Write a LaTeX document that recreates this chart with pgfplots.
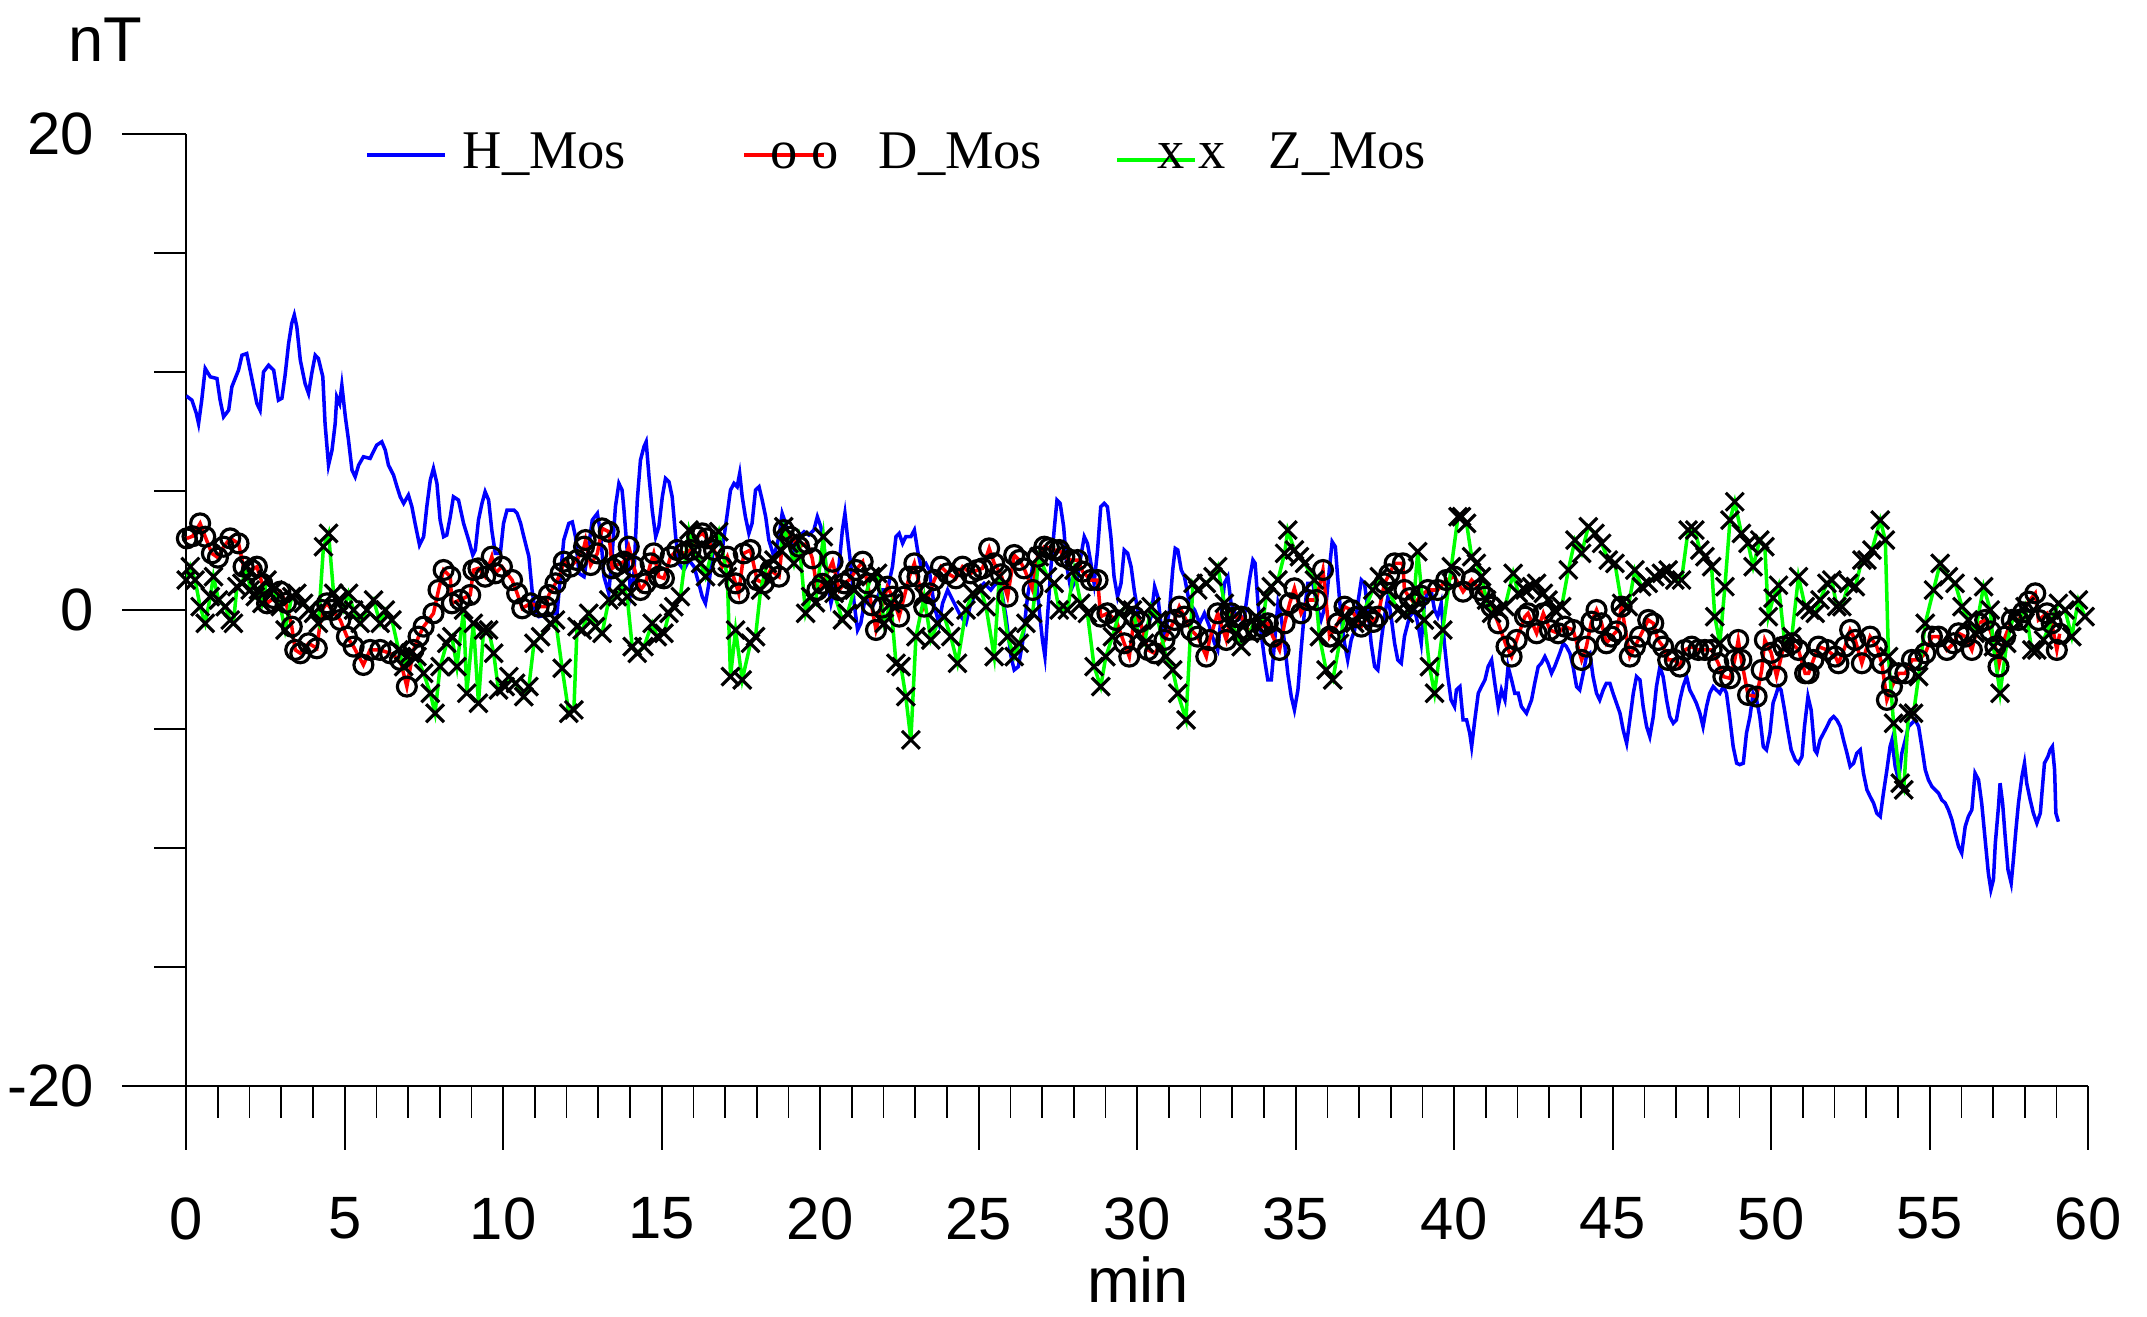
\documentclass[border=0pt]{standalone}
\usepackage{fontspec}
\setmainfont{Liberation Sans}
\newfontfamily\seriffont{Liberation Serif}
\usepackage{pgfplots}
\pgfplotsset{compat=1.18}
\pgfplotstableread{
t v
0 9.0
0.18 8.82
0.32 8.26
0.39 7.84
0.49 8.82
0.60 10.15
0.76 9.8
0.97 9.73
1.07 8.82
1.18 8.12
1.34 8.4
1.44 9.38
1.65 10.08
1.76 10.71
1.91 10.78
2.07 9.73
2.23 8.68
2.33 8.4
2.44 10.01
2.60 10.29
2.76 10.08
2.91 8.82
3.02 8.9
3.12 9.87
3.23 11.2
3.33 12.05
3.41 12.4
3.49 11.9
3.60 10.5
3.75 9.52
3.86 9.1
3.96 9.94
4.07 10.71
4.17 10.57
4.31 9.8
4.38 7.84
4.49 6.09
4.60 6.72
4.70 7.84
4.75 8.96
4.84 8.68
4.91 9.45
5.02 8.12
5.12 7.14
5.23 5.88
5.33 5.6
5.44 6.09
5.59 6.44
5.80 6.37
6.01 6.93
6.17 7.07
6.28 6.72
6.38 6.09
6.54 5.67
6.65 5.18
6.75 4.76
6.86 4.48
7.01 4.83
7.12 4.34
7.22 3.64
7.36 2.73
7.49 3.08
7.59 4.34
7.70 5.46
7.80 5.95
7.91 5.32
8.01 3.78
8.12 3.08
8.22 3.15
8.33 3.92
8.43 4.76
8.59 4.62
8.75 3.64
8.91 2.94
9.04 2.31
9.12 2.52
9.22 3.78
9.33 4.48
9.43 4.97
9.54 4.62
9.64 3.36
9.75 2.38
9.91 2.38
10.01 3.64
10.12 4.20
10.34 4.2
10.44 4.06
10.55 3.64
10.65 3.08
10.81 2.24
10.91 0.84
11.02 -0.14
11.12 -0.28
11.39 -0.2
11.70 -0.14
11.81 1.5
11.91 2.94
12.07 3.64
12.18 3.7
12.28 3.08
12.39 1.54
12.55 1.4
12.65 2.24
12.81 3.78
12.97 4.06
13.07 3.22
13.18 1.40
13.33 0.70
13.44 2.38
13.54 4.34
13.65 5.32
13.75 5.04
13.81 4.2
13.91 2.52
14.02 0.70
14.12 1.40
14.23 4.62
14.33 6.3
14.44 6.86
14.51 7.07
14.60 5.6
14.70 4.2
14.81 3.08
14.91 3.5
15.02 4.76
15.12 5.53
15.23 5.39
15.33 4.76
15.44 3.08
15.54 1.96
15.70 1.68
15.86 2.10
16.02 1.82
16.17 1.12
16.28 0.56
16.38 0.28
16.49 1.12
16.65 2.80
16.80 3.08
16.91 2.52
17.07 4.06
17.17 5.04
17.28 5.32
17.38 5.18
17.46 5.74
17.54 4.76
17.64 3.92
17.75 3.22
17.85 3.64
17.96 5.04
18.07 5.18
18.17 4.62
18.28 3.92
18.38 2.94
18.54 2.24
18.70 3.08
18.80 4.06
18.91 3.64
19.01 3.08
19.17 2.52
19.33 3.08
19.49 3.29
19.64 3.15
19.80 3.36
19.91 3.92
20.02 3.5
20.13 2.52
20.23 1.12
20.34 0.28
20.44 0.84
20.60 1.96
20.70 3.36
20.78 4.06
20.86 3.08
20.97 1.82
21.07 0.28
21.18 -0.84
21.28 -0.56
21.39 0.28
21.49 0.42
21.65 0.14
21.81 0.56
21.91 0.84
22.12 0.84
22.28 1.82
22.39 3.08
22.49 3.22
22.60 2.8
22.70 3.08
22.86 3.08
22.97 3.36
23.07 2.52
23.18 1.82
23.33 1.96
23.44 1.68
23.60 0.14
23.75 -0.56
23.86 0.28
24.02 0.84
24.23 0.28
24.44 -0.28
24.60 -0.56
24.75 0.28
24.96 0.84
25.17 1.12
25.38 0.84
25.54 1.12
25.70 0.98
25.86 -0.28
26.02 -1.96
26.12 -2.52
26.25 -2.38
26.38 -1.40
26.54 0.56
26.70 1.82
26.80 1.68
26.91 0
27.01 -1.26
27.09 -1.96
27.17 -0.28
27.28 1.82
27.38 3.36
27.47 4.62
27.57 4.48
27.68 3.5
27.78 1.82
27.91 0.84
28.01 1.12
28.12 1.40
28.22 2.24
28.33 3.08
28.43 2.8
28.54 1.96
28.64 1.12
28.75 2.52
28.85 4.34
28.96 4.48
29.06 4.34
29.17 3.08
29.27 1.40
29.38 0.56
29.49 1.12
29.59 2.52
29.70 2.38
29.81 1.8
29.91 0.8
30.00 0.1
30.07 -0.56
30.23 -0.98
30.44 -0.28
30.55 0.98
30.65 0.56
30.76 -0.70
30.86 -1.12
31.02 0
31.12 1.68
31.20 2.59
31.28 2.52
31.39 1.68
31.49 1.40
31.65 0.28
31.81 0
31.97 -0.56
32.12 -0.14
32.28 -0.70
32.44 -1.40
32.54 -1.68
32.65 -0.28
32.75 1.12
32.86 1.40
32.96 0.28
33.17 -0.42
33.38 -0.28
33.54 1.26
33.65 2.10
33.72 1.96
33.81 0.28
33.91 -0.98
34.02 -2.10
34.12 -2.94
34.23 -2.94
34.33 -1.40
34.44 0.28
34.54 -0.28
34.65 -1.40
34.75 -2.66
34.86 -3.64
34.96 -4.2
35.07 -3.36
35.17 -1.68
35.28 0
35.38 1.12
35.54 1.12
35.70 0
35.80 -0.42
35.96 0.28
36.07 1.82
36.15 2.87
36.25 2.66
36.33 1.26
36.43 -0.28
36.54 -1.40
36.64 -2.1
36.75 -1.26
36.86 -0.84
36.96 0.28
37.07 1.26
37.17 1.12
37.28 0
37.38 -1.40
37.49 -2.38
37.59 -2.52
37.70 -1.26
37.80 -0.28
37.91 0.56
38.01 -0.28
38.12 -1.40
38.22 -2.1
38.33 -2.24
38.43 -1.12
38.59 -0.28
38.75 0
38.85 -0.56
38.96 -1.40
39.06 0.28
39.17 0.84
39.27 0.84
39.38 0
39.48 -0.28
39.59 0.28
39.69 -1.40
39.80 -2.8
39.90 -3.78
40.01 -4.06
40.07 -3.36
40.18 -3.22
40.28 -4.62
40.39 -4.62
40.49 -5.18
40.55 -5.74
40.65 -4.62
40.76 -3.5
40.86 -3.22
40.97 -2.94
41.07 -2.38
41.18 -2.1
41.28 -3.08
41.39 -4.06
41.49 -3.36
41.60 -3.78
41.70 -2.38
41.81 -2.94
41.91 -3.5
42.02 -3.5
42.12 -4.06
42.28 -4.34
42.44 -3.78
42.54 -3.08
42.65 -2.38
42.75 -2.24
42.86 -1.96
42.96 -2.24
43.07 -2.66
43.17 -2.38
43.33 -1.82
43.44 -1.40
43.54 -1.54
43.65 -1.82
43.75 -2.38
43.86 -3.22
43.96 -3.36
44.07 -2.66
44.17 -1.96
44.28 -1.82
44.38 -2.80
44.49 -3.5
44.59 -3.78
44.70 -3.36
44.80 -3.08
44.91 -3.08
45.01 -3.5
45.12 -3.92
45.23 -4.34
45.33 -5.04
45.44 -5.6
45.54 -4.62
45.65 -3.5
45.75 -2.8
45.86 -2.94
45.96 -4.06
46.07 -4.9
46.17 -5.32
46.28 -4.48
46.38 -3.22
46.49 -2.38
46.59 -2.8
46.70 -3.78
46.80 -4.48
46.91 -4.76
47.01 -4.62
47.12 -3.78
47.22 -3.22
47.33 -2.8
47.43 -3.36
47.54 -3.64
47.64 -3.92
47.75 -4.34
47.85 -4.9
47.96 -4.06
48.06 -3.5
48.17 -3.22
48.27 -3.36
48.38 -3.5
48.49 -3.22
48.59 -3.5
48.70 -4.62
48.80 -5.74
48.91 -6.44
49.01 -6.5
49.12 -6.44
49.22 -5.18
49.33 -4.48
49.43 -3.5
49.54 -3.78
49.64 -4.48
49.75 -5.74
49.85 -5.88
49.96 -5.18
50.06 -3.9
50.13 -3.64
50.23 -3.22
50.31 -3.36
50.42 -4.2
50.52 -5.04
50.63 -5.88
50.76 -6.3
50.86 -6.44
50.97 -6.16
51.05 -4.9
51.16 -3.64
51.26 -4.2
51.37 -5.88
51.44 -6.02
51.54 -5.46
51.65 -5.18
51.76 -4.9
51.86 -4.62
51.97 -4.48
52.07 -4.62
52.18 -4.9
52.28 -5.46
52.39 -6.02
52.49 -6.58
52.60 -6.44
52.70 -6.02
52.81 -5.88
52.91 -6.86
53.02 -7.56
53.12 -7.84
53.23 -8.12
53.33 -8.54
53.44 -8.68
53.54 -7.7
53.65 -6.72
53.75 -5.74
53.81 -5.46
53.91 -6.58
54.02 -7.14
54.12 -6.02
54.23 -5.46
54.33 -4.9
54.44 -4.76
54.54 -4.62
54.65 -4.9
54.75 -5.74
54.86 -6.72
54.96 -7.14
55.07 -7.42
55.17 -7.56
55.28 -7.7
55.38 -7.98
55.49 -8.12
55.59 -8.4
55.70 -8.82
55.80 -9.38
55.91 -9.94
56.01 -10.22
56.12 -9.1
56.22 -8.68
56.33 -8.4
56.43 -6.86
56.54 -7.14
56.64 -8.12
56.75 -9.66
56.85 -11.06
56.93 -11.76
57.01 -11.34
57.07 -9.8
57.17 -8.26
57.22 -7.28
57.30 -8.12
57.38 -9.52
57.47 -10.92
57.57 -11.48
57.64 -10.5
57.72 -9.24
57.80 -8.12
57.91 -7.0
57.99 -6.44
58.06 -7.28
58.17 -7.98
58.27 -8.54
58.38 -8.96
58.49 -8.54
58.54 -7.7
58.62 -6.44
58.73 -6.16
58.80 -5.88
58.87 -5.74
58.94 -6.72
58.98 -8.54
59.06 -8.9
}\Hdata
\pgfplotstableread{
t v
0.02 3.01
0.20 3.1
0.44 3.64
0.60 3.08
0.81 2.38
1.00 2.2
1.18 2.66
1.39 3.01
1.65 2.8
1.81 1.82
2.07 1.68
2.23 1.82
2.40 1.1
2.55 0.28
2.76 0.5
2.97 0.77
3.15 0.3
3.33 -0.7
3.44 -1.68
3.60 -1.82
3.86 -1.40
4.12 -1.61
4.28 0
4.44 0.28
4.60 0
4.86 -0.42
5.07 -1.12
5.28 -1.54
5.59 -2.31
5.80 -1.68
6.12 -1.68
6.43 -1.82
6.75 -2.1
6.96 -3.22
7.17 -1.68
7.33 -1.12
7.49 -0.70
7.80 -0.14
7.96 0.84
8.12 1.68
8.33 1.40
8.38 0.28
8.64 0.42
8.96 0.63
9.06 1.68
9.22 1.75
9.43 1.40
9.64 2.24
9.75 1.54
9.96 1.82
10.28 1.26
10.44 0.70
10.60 0.07
10.86 0.28
11.12 0.14
11.34 0.14
11.44 0.63
11.65 1.12
11.81 1.54
11.91 2.03
12.12 1.82
12.33 2.10
12.55 2.66
12.60 2.94
12.76 1.89
12.97 2.38
13.12 3.43
13.33 3.29
13.44 1.75
13.60 1.9
13.81 2.03
13.96 2.66
14.12 1.82
14.33 0.84
14.49 1.12
14.65 1.96
14.75 2.38
14.91 1.40
15.07 1.33
15.28 2.24
15.49 2.52
15.70 2.38
15.91 2.52
16.12 3.08
16.28 3.22
16.43 3.01
16.65 2.52
16.91 1.82
17.07 2.24
17.33 1.12
17.43 0.70
17.59 2.38
17.80 2.52
18.01 1.26
18.22 1.12
18.43 1.68
18.70 1.40
18.85 3.36
19.06 3.08
19.33 2.66
19.59 2.80
19.75 2.17
19.91 0.84
20.07 1.1
20.39 2.03
20.60 0.84
20.76 1.12
20.95 1.3
21.13 1.68
21.34 2.03
21.49 1.12
21.62 0.2
21.76 -0.84
21.95 0.1
22.12 0.98
22.28 0.56
22.49 -0.28
22.65 0.56
22.81 1.40
22.97 1.96
23.07 1.40
23.28 0.14
23.45 0.7
23.60 1.26
23.81 1.82
24.02 1.54
24.28 1.33
24.49 1.82
24.75 1.54
24.96 1.68
25.12 1.75
25.33 2.59
25.49 1.96
25.70 1.5
25.91 0.56
26.12 2.31
26.28 2.10
26.43 1.75
26.70 0.84
26.86 2.24
27.07 2.66
27.22 2.6
27.38 2.52
27.54 2.52
27.70 2.24
27.91 2.10
28.12 2.10
28.28 1.61
28.54 1.26
28.75 1.26
28.85 -0.28
29.06 -0.14
29.33 -0.42
29.59 -1.40
29.75 -1.96
29.91 -0.28
30.10 -0.5
30.34 -1.68
30.55 -1.82
30.86 -1.26
31.02 -0.84
31.18 -0.42
31.33 0.14
31.49 -0.28
31.70 -0.84
31.91 -1.12
32.18 -1.96
32.28 -1.26
32.54 -0.14
32.81 -1.26
32.96 -0.14
33.12 -0.3
33.28 -0.28
33.49 -0.84
33.75 -0.84
33.95 -0.7
34.12 -0.56
34.28 -1.12
34.49 -1.68
34.65 -0.56
34.81 0.28
34.96 0.91
35.17 -0.14
35.38 0.42
35.65 0.42
35.86 1.68
36.07 -1.12
36.33 -0.56
36.54 0.14
36.75 0
36.90 -0.3
37.07 -0.70
37.28 -0.28
37.45 -0.5
37.59 -0.28
37.80 1.12
37.95 1.5
38.12 1.96
38.38 1.96
38.43 0.84
38.60 0.5
38.75 0.28
38.95 0.6
39.17 0.84
39.48 0.84
39.75 1.26
40.01 1.40
40.28 0.77
40.55 1.26
40.81 0.84
40.97 0.56
41.18 0.14
41.39 -0.56
41.65 -1.54
41.81 -1.96
41.97 -1.26
42.23 -0.28
42.33 -0.14
42.60 -0.98
42.81 -0.14
43.02 -0.84
43.28 -0.98
43.49 -0.70
43.75 -0.84
44.02 -2.10
44.17 -1.54
44.33 -0.49
44.49 0
44.65 -0.56
44.80 -1.40
44.96 -1.12
45.12 -0.9
45.28 0.14
45.54 -1.96
45.70 -1.54
45.86 -1.12
46.12 -0.42
46.28 -0.56
46.43 -1.26
46.59 -1.54
46.75 -2.10
46.96 -2.10
47.12 -2.38
47.28 -1.68
47.49 -1.54
47.70 -1.68
47.91 -1.68
48.12 -1.68
48.33 -2.24
48.49 -2.80
48.70 -2.87
48.85 -2.10
48.96 -1.26
49.06 -2.10
49.27 -3.57
49.54 -3.64
49.70 -2.52
49.80 -1.26
50.00 -1.8
50.17 -2.80
50.39 -1.54
50.65 -1.40
50.86 -1.68
51.07 -2.66
51.18 -2.66
51.33 -2.10
51.49 -1.54
51.76 -1.68
52.02 -1.96
52.12 -2.24
52.33 -1.54
52.49 -0.84
52.65 -1.26
52.86 -2.24
53.12 -1.12
53.33 -1.54
53.49 -2.24
53.65 -3.78
53.81 -3.22
54.02 -2.66
54.23 -2.66
54.44 -2.10
54.65 -2.10
54.86 -1.82
55.07 -1.12
55.28 -1.12
55.54 -1.68
55.75 -1.40
55.91 -0.98
56.12 -1.12
56.33 -1.68
56.54 -0.56
56.75 -0.42
56.92 -0.9
57.07 -1.54
57.17 -2.38
57.38 -1.12
57.59 -0.42
57.80 -0.42
57.95 -0.1
58.12 0.35
58.33 0.70
58.43 -0.42
58.70 -0.14
58.85 -0.56
59.01 -1.68
59.10 -1.0
}\Ddata
\pgfplotstableread{
t v
0 1.26
0.13 1.82
0.28 1.26
0.44 0.14
0.60 -0.56
0.76 0.56
0.86 1.4
1.02 0.42
1.23 0.14
1.39 -0.42
1.49 -0.56
1.60 0.98
1.76 1.12
1.91 1.82
2.02 0.84
2.18 0.56
2.28 0.84
2.39 0.28
2.55 1.26
2.76 0.84
2.97 0.14
3.12 -0.84
3.33 0.56
3.49 0.7
3.70 0.28
3.86 0
4.02 -0.14
4.17 -0.56
4.33 2.66
4.49 3.22
4.65 0.7
4.81 0.42
4.96 0
5.12 0.7
5.28 0
5.49 -0.56
5.70 0
5.91 0.42
6.12 -0.56
6.28 0
6.49 -0.42
6.70 -1.68
6.86 -2.38
7.07 -1.82
7.28 -1.96
7.49 -2.66
7.70 -3.5
7.85 -4.34
8.01 -2.38
8.22 -1.40
8.38 -1.12
8.54 -2.38
8.75 0
8.85 -3.5
9.06 -0.56
9.22 -3.92
9.38 -0.84
9.54 -0.84
9.70 -1.82
9.85 -3.36
10.06 -3.22
10.18 -2.80
10.39 -3.08
10.65 -3.64
10.81 -3.22
10.97 -1.40
11.18 -1.12
11.49 -0.56
11.65 -0.42
11.86 -2.45
12.07 -4.34
12.23 -4.2
12.33 -0.70
12.49 -0.84
12.70 -0.14
12.91 -0.70
13.12 -0.98
13.33 0.42
13.60 0.56
13.75 1.12
13.91 0.56
14.07 -1.54
14.23 -1.82
14.44 -1.54
14.70 -0.56
14.86 -1.12
15.07 -0.98
15.23 -0.14
15.38 0.14
15.59 0.56
15.86 3.36
16.02 2.52
16.23 1.96
16.38 1.40
16.60 2.52
16.80 3.29
17.07 1.40
17.17 -2.80
17.33 -0.84
17.54 -2.94
17.80 -1.40
17.96 -1.12
18.12 0.84
18.33 1.96
18.54 2.10
18.75 2.52
18.85 3.50
19.01 2.80
19.17 1.96
19.33 2.94
19.54 -0.14
19.70 0.56
19.85 0.3
20.10 3.08
20.23 1.12
20.44 0.70
20.70 -0.42
20.86 -0.14
21.07 0.84
21.39 0.42
21.60 1.40
21.81 1.54
22.02 -0.56
22.23 0.28
22.39 -2.24
22.55 -2.38
22.70 -3.64
22.86 -5.46
23.02 -1.12
23.28 0.56
23.49 -1.26
23.70 -0.56
23.91 -0.28
24.12 -1.12
24.33 -2.24
24.60 0
24.81 0.70
25.07 0.84
25.23 0.14
25.49 -1.96
25.65 1.40
25.91 -1.12
26.12 -1.96
26.28 -1.40
26.49 -0.56
26.70 -0.14
26.91 2.24
27.17 1.40
27.38 1.12
27.54 0
27.80 0
28.01 1.68
28.22 0.28
28.43 -0.14
28.64 -2.38
28.85 -3.22
29.01 -1.96
29.22 -1.12
29.43 -0.14
29.64 0.14
29.85 0
30.04 -1.0
30.23 -1.40
30.44 0.14
30.65 -0.42
30.91 -1.96
31.12 -2.52
31.28 -3.50
31.54 -4.62
31.76 1.12
31.91 0.84
32.18 1.12
32.39 1.40
32.54 1.82
32.75 0.28
32.96 -0.42
33.12 -1.0
33.28 -1.54
33.54 -0.98
33.75 -0.28
33.96 -0.56
34.07 0.56
34.23 0.98
34.44 1.26
34.65 2.38
34.75 3.36
34.96 2.52
35.12 2.24
35.28 1.96
35.59 1.26
35.75 -1.12
35.96 -2.52
36.17 -2.94
36.38 -1.40
36.54 -0.28
36.86 -0.56
37.17 0
37.43 0.84
37.64 1.40
37.91 0.84
38.22 0
38.43 -0.14
38.70 0
38.85 2.45
39.06 -0.42
39.22 -2.38
39.38 -3.50
39.64 -0.84
39.91 1.82
40.12 3.92
40.23 3.92
40.39 3.64
40.55 2.24
40.70 1.96
40.86 1.40
41.02 0.42
41.18 -0.14
41.39 0
41.60 0.14
41.86 1.54
42.02 0.70
42.23 0.84
42.44 0.98
42.60 1.12
42.81 0.70
42.96 0.42
43.17 0
43.39 0.14
43.60 1.68
43.81 2.94
44.02 2.38
44.23 3.50
44.44 3.22
44.65 2.80
44.86 2.10
45.07 1.96
45.28 0.28
45.49 0.14
45.70 1.68
45.91 0.98
46.12 1.12
46.33 1.40
46.54 1.54
46.75 1.68
46.96 1.26
47.17 1.26
47.38 3.36
47.59 3.36
47.75 2.52
47.91 2.24
48.12 1.82
48.22 -0.28
48.38 -1.40
48.54 0.98
48.70 3.78
48.85 4.55
49.06 3.22
49.27 2.80
49.43 1.82
49.64 2.94
49.80 2.66
49.91 -0.28
50.06 0.5
50.23 1.04
50.44 -1.54
50.65 -1.12
50.86 1.40
51.07 0.14
51.23 0
51.39 -0.14
51.54 0.42
51.76 1.12
51.91 1.26
52.07 0.14
52.23 0.14
52.44 1.12
52.65 0.98
52.86 2.10
53.02 2.10
53.18 2.52
53.44 3.78
53.60 2.94
53.70 -1.96
53.86 -4.76
54.07 -7.28
54.18 -7.56
54.33 -4.34
54.49 -4.34
54.65 -2.80
54.86 -0.56
55.12 0.84
55.33 1.96
55.59 1.40
55.80 1.12
56.02 0.14
56.22 -0.42
56.43 -0.98
56.70 0.98
56.91 0
57.01 -1.54
57.22 -3.50
57.43 -1.40
57.64 -0.28
57.80 -0.56
58.01 0.14
58.22 -1.68
58.38 -1.68
58.59 -1.26
58.85 -0.42
59.06 0.28
59.27 0
59.48 -1.12
59.69 0.42
59.90 -0.28
}\Zdata
\begin{document}
\begin{tikzpicture}[x=1cm,y=1cm]
\useasboundingbox (0,0) rectangle (21.47,13.17);
\begin{axis}[
  at={(1.862cm,2.312cm)}, anchor=south west,
  scale only axis, width=19.02cm, height=9.516cm,
  xmin=0, xmax=60, ymin=-20, ymax=20,
  axis x line*=bottom, axis y line*=left,
  axis line style={line width=0.7pt, black},
  xtick={0,5,...,60}, minor x tick num=4,
  xticklabels={0,5,10,15,20,25,30,35,40,45,50,55,60},
  ytick={-20,0,20}, yticklabels={-20,0,20},
  minor ytick={-15,-10,-5,5,10,15},
  tick align=outside,
  major tick length=0.64cm, minor tick length=0.32cm,
  tick style={black, line width=0.5pt},
  minor tick style={black, line width=0.5pt},
  tick label style={font=\fontsize{17}{20}\selectfont},
  xticklabel style={inner sep=0pt, anchor=north, yshift=-0.47cm},
  yticklabel style={inner sep=0pt, anchor=east, xshift=-0.28cm},
]
\addplot[blue, line width=1.0pt, no markers] table[x=t,y=v] {\Hdata};
\addplot[red, line width=1.0pt, mark=o, mark size=2.7pt, mark options={black, line width=0.9pt}] table[x=t,y=v] {\Ddata};
\addplot[green, line width=1.0pt, mark=x, mark size=3.6pt, mark options={black, line width=0.9pt}] table[x=t,y=v] {\Zdata};
\end{axis}
\draw[blue, line width=1.0pt] (3.67,11.62) -- (4.45,11.62);
\node[anchor=base west, inner sep=0pt, font=\seriffont\fontsize{15.5}{18}\selectfont] at (4.62,11.48) {H\_Mos};
\draw[red, line width=1.0pt] (7.44,11.62) -- (8.24,11.62);
\node[anchor=base west, inner sep=0pt, font=\seriffont\fontsize{15.5}{18}\selectfont] at (7.70,11.48) {o o};
\node[anchor=base west, inner sep=0pt, font=\seriffont\fontsize{15.5}{18}\selectfont] at (8.78,11.48) {D\_Mos};
\draw[green, line width=1.0pt] (11.17,11.57) -- (11.95,11.57);
\node[anchor=base west, inner sep=0pt, font=\seriffont\fontsize{15.5}{18}\selectfont] at (11.57,11.48) {x x};
\node[anchor=base west, inner sep=0pt, font=\seriffont\fontsize{15.5}{18}\selectfont] at (12.68,11.48) {Z\_Mos};
\node[anchor=base west, inner sep=0pt, font=\fontsize{18}{21}\selectfont] at (0.68,12.55) {nT};
\node[anchor=base, inner sep=0pt, font=\fontsize{18}{21}\selectfont] at (11.38,0.14) {min};
\end{tikzpicture}
\end{document}
